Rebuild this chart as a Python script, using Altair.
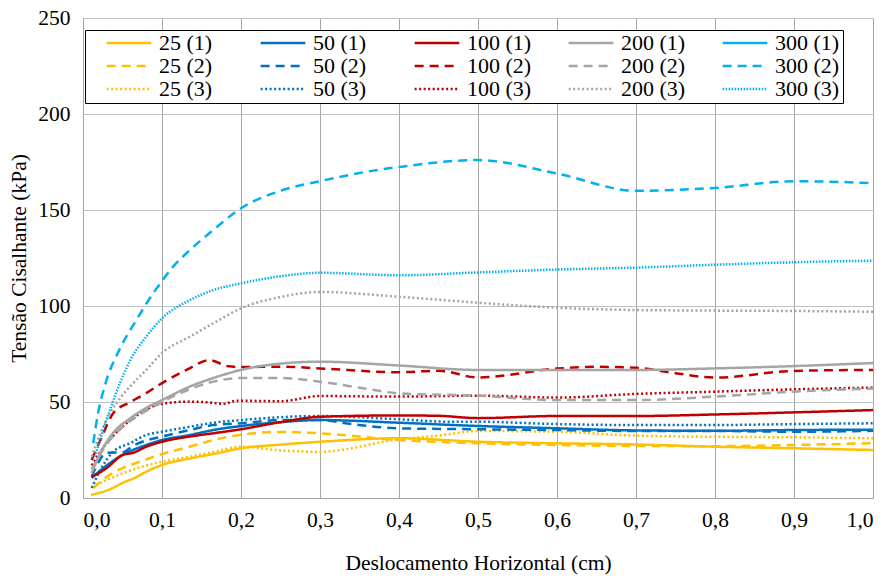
import altair as alt
import pandas as pd

names = ["25 (1)", "50 (1)", "100 (1)", "200 (1)", "300 (1)",
         "25 (2)", "50 (2)", "100 (2)", "200 (2)", "300 (2)",
         "25 (3)", "50 (3)", "100 (3)", "200 (3)", "300 (3)"]

x25_1 = [0.01, 0.02, 0.035, 0.05, 0.068, 0.08, 0.1, 0.135, 0.165, 0.2, 0.25, 0.3, 0.4, 0.5, 0.6, 0.7, 0.8, 0.9, 1.0]
y25_1 = [1.6, 2.6, 4.7, 7.8, 11, 13.7, 17.2, 20.6, 22.9, 25.9, 27.8, 29.3, 31.1, 29.3, 28.5, 27.9, 26.7, 25.9, 25.0]

x25_2 = [0.013, 0.03, 0.05, 0.072, 0.1, 0.135, 0.165, 0.2, 0.25, 0.3, 0.4, 0.5, 0.6, 0.7, 0.8, 0.9, 1.0]
y25_2 = [5.2, 11, 15.6, 18.9, 22.9, 26.7, 30.2, 33, 34.4, 33.7, 30.2, 28.5, 27.6, 27.1, 27.0, 27.6, 28.6]

x25_3 = [0.011, 0.03, 0.05, 0.072, 0.1, 0.135, 0.165, 0.2, 0.25, 0.3, 0.34, 0.38, 0.4, 0.45, 0.5, 0.6, 0.7, 0.8, 0.9, 1.0]
y25_3 = [5.9, 9.4, 12.8, 16, 18.9, 21.5, 24, 26.7, 24.8, 24, 25.9, 29.3, 30.5, 32.5, 34.9, 34.5, 32.5, 31.9, 31.6, 31.1]

x50_1 = [0.011, 0.03, 0.05, 0.08, 0.1, 0.135, 0.165, 0.2, 0.25, 0.3, 0.4, 0.5, 0.6, 0.7, 0.8, 0.9, 1.0]
y50_1 = [10.4, 17, 22.4, 27.6, 30.2, 32.8, 35.4, 37.5, 39.5, 40.6, 39.2, 37.5, 36.3, 35.2, 35, 35.4, 35.6]

x50_2 = [0.011, 0.02, 0.03, 0.05, 0.065, 0.08, 0.1, 0.135, 0.165, 0.2, 0.25, 0.3, 0.34, 0.4, 0.5, 0.6, 0.7, 0.8, 0.9, 1.0]
y50_2 = [11, 19, 23.6, 23.8, 27.6, 30, 32, 35.4, 38, 38.9, 40.6, 40.6, 38.5, 36.3, 35.8, 35.4, 34.9, 34.9, 34.5, 35]

x50_3 = [0.011, 0.022, 0.038, 0.06, 0.08, 0.1, 0.135, 0.165, 0.2, 0.3, 0.4, 0.465, 0.5, 0.6, 0.7, 0.8, 0.9, 1.0]
y50_3 = [5.2, 14.6, 24, 28.6, 32.8, 34.5, 37.1, 39.2, 40.6, 42.7, 41, 39.7, 39.7, 38.5, 38, 38, 38.5, 38.9]

x100_1 = [0.011, 0.03, 0.05, 0.064, 0.08, 0.1, 0.135, 0.165, 0.2, 0.25, 0.3, 0.4, 0.45, 0.5, 0.6, 0.7, 0.8, 0.9, 1.0]
y100_1 = [11, 15.6, 22.4, 23.6, 26.7, 29.3, 32, 33.7, 35.8, 39.5, 42.3, 43, 42.8, 41.6, 42.7, 42.7, 43.5, 44.6, 45.8]

x100_2 = [0.011, 0.024, 0.038, 0.06, 0.08, 0.1, 0.131, 0.16, 0.184, 0.2, 0.25, 0.3, 0.4, 0.45, 0.5, 0.6, 0.65, 0.7, 0.75, 0.8, 0.9, 1.0]
y100_2 = [19.8, 32, 44, 50, 54.6, 59.8, 66.7, 71.8, 68.6, 68.2, 68.4, 67.5, 65.5, 66.3, 62.8, 67.4, 68.3, 67.8, 65, 62.7, 66.2, 66.7]

x100_3 = [0.011, 0.03, 0.05, 0.072, 0.093, 0.11, 0.135, 0.165, 0.177, 0.195, 0.25, 0.3, 0.4, 0.5, 0.6, 0.7, 0.8, 0.9, 1.0]
y100_3 = [17, 28.6, 37, 44, 48.4, 49.6, 50.2, 49.6, 49, 50.7, 50.4, 53.1, 52.8, 53.3, 52.3, 54.2, 55.4, 56.6, 57.5]

x200_1 = [0.011, 0.022, 0.038, 0.06, 0.08, 0.1, 0.135, 0.165, 0.2, 0.25, 0.3, 0.4, 0.5, 0.6, 0.7, 0.8, 0.9, 1.0]
y200_1 = [13, 23.4, 33.8, 41.6, 46.9, 51, 58, 62.5, 66.7, 70, 71, 69, 66.7, 66.7, 66.7, 67.5, 68.7, 70.3]

x200_2 = [0.011, 0.03, 0.056, 0.068, 0.1, 0.123, 0.165, 0.2, 0.25, 0.3, 0.36, 0.4, 0.5, 0.6, 0.7, 0.8, 0.9, 1.0]
y200_2 = [15, 28, 39, 42.4, 50, 54.6, 60.6, 62.5, 62.5, 60.6, 56.8, 54.5, 53.3, 51, 51, 52.8, 55.4, 57]

x200_3 = [0.011, 0.022, 0.034, 0.047, 0.064, 0.08, 0.1, 0.135, 0.165, 0.2, 0.25, 0.3, 0.4, 0.5, 0.6, 0.7, 0.8, 0.9, 1.0]
y200_3 = [21.5, 33.8, 44, 52, 60, 66.7, 75.5, 84, 91, 98.8, 104.7, 107.3, 104.8, 101.7, 99.1, 97.9, 97.6, 97.4, 97]

x300_2 = [0.013, 0.019, 0.028, 0.047, 0.068, 0.089, 0.1, 0.114, 0.135, 0.165, 0.2, 0.25, 0.3, 0.36, 0.4, 0.5, 0.6, 0.7, 0.8, 0.9, 1.0]
y300_2 = [28.6, 44, 59, 78, 93, 106.7, 113, 120.5, 129, 139.6, 150.9, 160, 165, 170, 172.4, 176, 169, 160, 161.5, 165, 164]

x300_3 = [0.015, 0.034, 0.047, 0.06, 0.08, 0.1, 0.135, 0.165, 0.2, 0.25, 0.3, 0.4, 0.5, 0.6, 0.7, 0.8, 0.9, 1.0]
y300_3 = [21.5, 45.8, 60, 71.9, 84, 93.6, 103, 108.3, 111.8, 115.5, 117.3, 116, 117.5, 119, 120, 121.5, 122.8, 123.6]

series = {
    "25 (1)": (x25_1, y25_1), "25 (2)": (x25_2, y25_2), "25 (3)": (x25_3, y25_3),
    "50 (1)": (x50_1, y50_1), "50 (2)": (x50_2, y50_2), "50 (3)": (x50_3, y50_3),
    "100 (1)": (x100_1, y100_1), "100 (2)": (x100_2, y100_2), "100 (3)": (x100_3, y100_3),
    "200 (1)": (x200_1, y200_1), "200 (2)": (x200_2, y200_2), "200 (3)": (x200_3, y200_3),
    "300 (2)": (x300_2, y300_2), "300 (3)": (x300_3, y300_3),
}

rows = []
for name, (xs, ys) in series.items():
    for i, (xv, yv) in enumerate(zip(xs, ys)):
        rows.append({"series": name, "x": xv, "y": yv, "order": i})
df = pd.DataFrame(rows)

gold, blue, red, gray, lblue = "#FFC000", "#0070C0", "#C00000", "#A5A5A5", "#00B0F0"
colors = [gold, blue, red, gray, lblue] * 3
solid, dash, dot, fine = [1, 0], [9, 6], [2, 2.5], [1.5, 1.5]
dashes = [solid] * 5 + [dash] * 5 + [dot] * 4 + [fine]
widths = [2.5] * 5 + [2.8] * 5 + [2.2] * 4 + [1.5]

FONT = "Times New Roman, Liberation Serif, DejaVu Serif, serif"
FS = 21.5

legend = alt.Legend(
    title=None, orient="none", legendX=2, legendY=12, columns=5, direction="horizontal",
    symbolType="stroke", symbolSize=2000, symbolStrokeWidth=2.5, clipHeight=20,
    labelFont=FONT, labelFontSize=22, labelColor="black", labelOffset=6,
    strokeColor="black", fillColor="white", padding=3,
    columnPadding=18, rowPadding=1, gridAlign="all", symbolOffset=17,
)

chart = alt.Chart(df).mark_line(interpolate="monotone").encode(
    x=alt.X("x:Q", scale=alt.Scale(domain=[0, 1], nice=False),
            axis=alt.Axis(values=[i / 10 for i in range(11)],
                          labelExpr="replace(format(datum.value, '.1f'), '.', ',')",
                          title="Deslocamento Horizontal (cm)",
                          labelFont=FONT, labelFontSize=FS, labelColor="black",
                          titleFont=FONT, titleFontSize=FS, titleColor="black",
                          titleFontWeight="normal",
                          gridColor="#A6A6A6", domainColor="#A6A6A6", ticks=False,
                          labelPadding=11, titlePadding=22)),
    y=alt.Y("y:Q", scale=alt.Scale(domain=[0, 250], nice=False),
            axis=alt.Axis(values=[0, 50, 100, 150, 200, 250],
                          title="Tensão Cisalhante (kPa)",
                          labelFont=FONT, labelFontSize=FS, labelColor="black",
                          titleFont=FONT, titleFontSize=FS, titleColor="black",
                          titleFontWeight="normal",
                          gridColor="#BFBFBF", domainColor="#A6A6A6", ticks=False,
                          labelPadding=13, titlePadding=7)),
    color=alt.Color("series:N", scale=alt.Scale(domain=names, range=colors), legend=legend),
    strokeDash=alt.StrokeDash("series:N", scale=alt.Scale(domain=names, range=dashes), legend=legend),
    strokeWidth=alt.StrokeWidth("series:N", scale=alt.Scale(domain=names, range=widths), legend=None),
    detail="series:N",
    order="order:Q",
).properties(
    width=790, height=480,
    padding={"left": 83, "top": 18, "right": 14, "bottom": 83},
    autosize="none",
).configure_axis(gridWidth=1).configure_view(stroke="#BFBFBF")

chart.save("out.html", embed_options={"renderer": "svg", "actions": False})
